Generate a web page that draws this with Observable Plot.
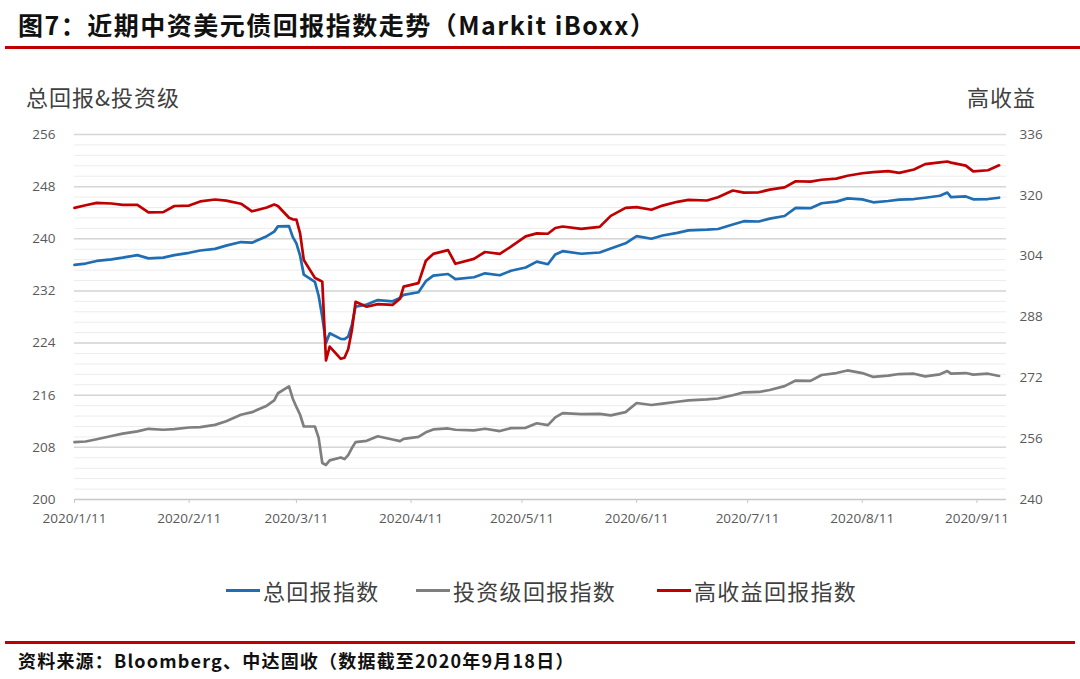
<!DOCTYPE html>
<html>
<head>
<meta charset="utf-8">
<script src="https://cdn.jsdelivr.net/npm/d3@7"></script>
<script src="https://cdn.jsdelivr.net/npm/@observablehq/plot@0.6"></script>
<style>
  html, body { margin: 0; padding: 0; background: #fff; }
  #wrap { position: relative; width: 1080px; height: 679px; overflow: hidden; font-family: "Noto Sans CJK SC", "Noto Sans", sans-serif; }
  #chart { position: absolute; left: 0; top: 0; }
  .abs { position: absolute; white-space: nowrap; }
  .title { left: 18px; top: 6px; font-size: 25px; font-weight: 700; color: #111; line-height: 36px; letter-spacing: 1.5px; }
  .rule { left: 5px; height: 3px; background: #c00000; }
  .ylab { font-size: 22px; color: #404040; letter-spacing: 1px; line-height: 28px; }
  .legend { top: 576px; left: 0; width: 1080px; height: 28px; }
  .item { position: absolute; top: 0; font-size: 22px; color: #404040; line-height: 28px; letter-spacing: 1.3px; }
  .swatch { position: absolute; top: 13px; width: 34px; height: 3px; }
  .source { left: 18px; top: 646px; font-size: 18px; font-weight: 700; color: #111; line-height: 28px; letter-spacing: 1.2px; }
</style>
</head>
<body>
<div id="wrap">
  <div id="chart"></div>
  <div class="abs title">图7：近期中资美元债回报指数走势（Markit iBoxx）</div>
  <div class="abs rule" style="top:46px;width:1075px;"></div>
  <div class="abs ylab" style="left:26px;top:82px;">总回报&amp;投资级</div>
  <div class="abs ylab" style="left:967px;top:82px;">高收益</div>
  <div class="abs legend" id="legend"></div>
  <div class="abs rule" style="top:641px;width:1070px;"></div>
  <div class="abs source">资料来源：Bloomberg、中达固收（数据截至2020年9月18日）</div>
</div>
<script>
// ---- data ----
const dates = ["2020-01-11","2020-01-14","2020-01-17","2020-01-21","2020-01-24","2020-01-28","2020-01-31",
"2020-02-04","2020-02-07","2020-02-11","2020-02-14","2020-02-18","2020-02-21","2020-02-25","2020-02-28",
"2020-03-03","2020-03-05","2020-03-06","2020-03-09","2020-03-10","2020-03-11","2020-03-12","2020-03-13","2020-03-16","2020-03-17","2020-03-18","2020-03-19","2020-03-20","2020-03-23","2020-03-24","2020-03-25","2020-03-26","2020-03-27","2020-03-30",
"2020-04-02","2020-04-06","2020-04-08","2020-04-09","2020-04-13","2020-04-15","2020-04-17","2020-04-21","2020-04-23","2020-04-28",
"2020-05-01","2020-05-05","2020-05-08","2020-05-12","2020-05-15","2020-05-18","2020-05-20","2020-05-22","2020-05-27",
"2020-06-01","2020-06-04","2020-06-08","2020-06-11","2020-06-15","2020-06-18","2020-06-22","2020-06-25","2020-06-30",
"2020-07-03","2020-07-07","2020-07-10","2020-07-14","2020-07-17","2020-07-21","2020-07-24","2020-07-28","2020-07-31",
"2020-08-04","2020-08-07","2020-08-11","2020-08-14","2020-08-18","2020-08-21","2020-08-25","2020-08-28",
"2020-09-01","2020-09-03","2020-09-04","2020-09-08","2020-09-10","2020-09-14","2020-09-17"];

// 总回报指数 (left axis)
const totalReturn = [236.0,236.2,236.6,236.85,237.1,237.5,237.0,
237.1,237.5,237.85,238.2,238.45,238.95,239.5,239.4,
240.4,241.1,241.9,241.95,240.3,239.3,237.4,234.5,233.4,231.3,228.0,224.0,225.5,224.65,224.6,225.0,226.8,229.6,229.9,
230.6,230.4,230.9,231.4,231.8,233.5,234.35,234.6,233.8,234.1,
234.7,234.4,235.1,235.6,236.5,236.1,237.6,238.1,237.7,
237.9,238.5,239.3,240.4,240.0,240.5,240.9,241.3,241.4,
241.5,242.2,242.7,242.65,243.1,243.5,244.75,244.7,245.45,
245.7,246.2,246.05,245.6,245.8,246.0,246.1,246.3,
246.6,247.1,246.4,246.5,246.05,246.1,246.3];

// 投资级回报指数 (left axis)
const investmentGrade = [208.8,208.9,209.25,209.75,210.1,210.45,210.85,
210.7,210.8,211.05,211.1,211.45,212.0,213.0,213.4,
214.4,215.2,216.3,217.35,215.5,214.2,213.0,211.2,211.2,209.5,205.6,205.3,206.0,206.45,206.2,206.8,207.9,208.8,209.0,
209.7,209.2,208.95,209.3,209.6,210.3,210.75,210.9,210.7,210.6,
210.85,210.5,210.95,211.0,211.7,211.4,212.6,213.25,213.1,
213.15,212.9,213.4,214.8,214.5,214.7,215.0,215.2,215.35,
215.5,216.0,216.45,216.5,216.8,217.4,218.25,218.2,219.1,
219.4,219.8,219.4,218.8,219.0,219.25,219.3,218.9,
219.2,219.7,219.3,219.4,219.15,219.3,218.95];

// 高收益回报指数 (right axis)
const highYield = [316.7,317.4,318.0,317.85,317.5,317.5,315.5,
315.6,317.2,317.3,318.4,318.9,318.6,317.8,315.8,
316.8,317.6,317.2,314.1,313.7,313.6,310.0,303.0,298.3,297.8,297.3,276.6,280.2,277.0,277.3,279.5,284.5,292.0,290.7,
291.4,291.2,292.8,296.0,296.9,302.8,304.6,305.6,302.0,303.3,
305.1,304.6,306.5,309.2,310.0,309.9,311.4,311.8,311.2,
311.7,314.6,316.7,316.9,316.2,317.3,318.3,318.8,318.64,
319.5,321.27,320.7,320.8,321.5,322.1,323.7,323.6,324.1,
324.4,325.15,325.8,326.1,326.35,325.9,326.8,328.2,
328.65,328.9,328.6,327.8,326.3,326.6,327.9];

const leftTicks = [200, 208, 216, 224, 232, 240, 248, 256];
const rightTicks = [240, 256, 272, 288, 304, 320, 336];
const xTickDates = ["2020-01-11","2020-02-11","2020-03-11","2020-04-11","2020-05-11","2020-06-11","2020-07-11","2020-08-11","2020-09-11"];
const seriesNames = ["总回报指数", "投资级回报指数", "高收益回报指数"];
const seriesColors = ["#1f6db3", "#7f7f7f", "#c00000"];

// ---- dual axis mapping (right 240..336 <-> left 200..256) ----
const L0 = 200, L1 = 256, R0 = 240, R1 = 336;
const toLeft = r => L0 + (r - R0) * (L1 - L0) / (R1 - R0);
const toRight = l => R0 + (l - L0) * (R1 - R0) / (L1 - L0);

const parse = s => new Date(s + "T00:00:00Z");
const rows = dates.map((d, i) => ({
  date: parse(d),
  total: totalReturn[i],
  ig: investmentGrade[i],
  hy: toLeft(highYield[i])
}));

const fmtDate = d => `${d.getUTCFullYear()}/${d.getUTCMonth() + 1}/${d.getUTCDate()}`;
const minor = d3.range(0, 36).map(i => L0 + i * 1.6).filter(v => v <= L1 + 1e-9);

const chart = Plot.plot({
  width: 1080,
  height: 679,
  marginTop: 134,
  marginBottom: 180,
  marginLeft: 74,
  marginRight: 74,
  style: { fontFamily: "'Open Sans', 'Noto Sans', sans-serif", fontSize: "13.5px", color: "#595959", background: "transparent", overflow: "visible" },
  x: { type: "utc", domain: [parse("2020-01-11"), parse("2020-09-19")] },
  y: { domain: [L0, L1] },
  marks: [
    Plot.ruleY(minor, { stroke: "#ececec", strokeWidth: 1 }),
    Plot.ruleY(leftTicks.filter(v => v !== L0), { stroke: "#d6d6d6", strokeWidth: 1.5 }),
    Plot.ruleY([L0], { stroke: "#c8c8c8", strokeWidth: 1.5 }),
    Plot.axisX({ ticks: xTickDates.map(parse), tickFormat: fmtDate, tickSize: 4, tickPadding: 10, stroke: "#c8c8c8", fill: "#595959", label: null }),
    Plot.axisY({ anchor: "left", ticks: leftTicks, tickSize: 0, tickPadding: 19, label: null, fill: "#595959" }),
    Plot.axisY({ anchor: "right", ticks: rightTicks.map(toLeft), tickFormat: d => String(Math.round(toRight(d))), tickSize: 0, tickPadding: 13, label: null, fill: "#595959" }),
    Plot.line(rows, { x: "date", y: "ig", stroke: seriesColors[1], strokeWidth: 2.7, strokeLinejoin: "round" }),
    Plot.line(rows, { x: "date", y: "total", stroke: seriesColors[0], strokeWidth: 2.7, strokeLinejoin: "round" }),
    Plot.line(rows, { x: "date", y: "hy", stroke: seriesColors[2], strokeWidth: 2.7, strokeLinejoin: "round" })
  ]
});
document.getElementById("chart").appendChild(chart);

// legend
const legendPos = [226, 416, 657];
const legend = document.getElementById("legend");
seriesNames.forEach((name, i) => {
  const sw = document.createElement("div");
  sw.className = "swatch";
  sw.style.left = legendPos[i] + "px";
  sw.style.background = seriesColors[i];
  legend.appendChild(sw);
  const t = document.createElement("div");
  t.className = "item";
  t.style.left = (legendPos[i] + 37) + "px";
  t.textContent = name;
  legend.appendChild(t);
});
</script>
</body>
</html>
